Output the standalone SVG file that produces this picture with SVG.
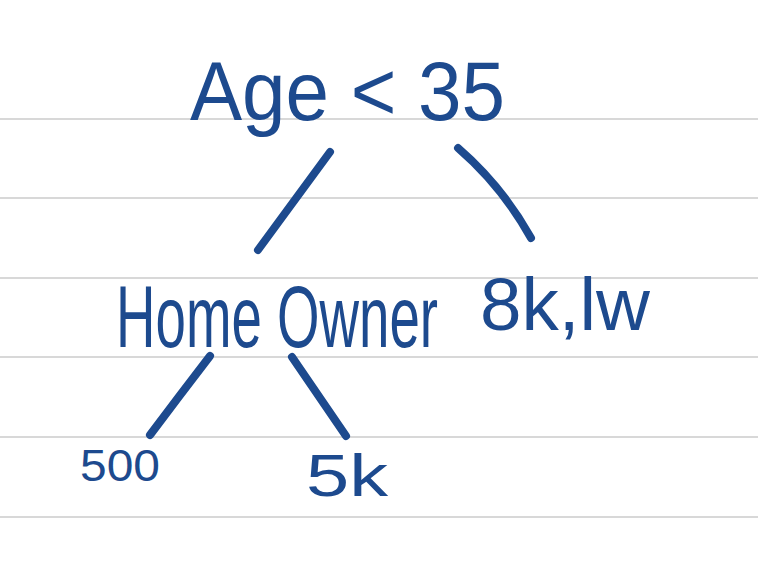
<svg xmlns="http://www.w3.org/2000/svg" width="758" height="584" viewBox="0 0 758 584">
<style>
.rule{stroke:#d8d8d8;stroke-width:2}
.ink{fill:#1d4a8e;font-family:"Liberation Sans",Arial,sans-serif}
.edge{stroke:#1d4a8e;stroke-width:8;stroke-linecap:round;fill:none}
</style>
<rect width="758" height="584" fill="#ffffff"/>
<g id="paper">
<line class="rule" x1="0" y1="119" x2="758" y2="119"/>
<line class="rule" x1="0" y1="198" x2="758" y2="198"/>
<line class="rule" x1="0" y1="278" x2="758" y2="278"/>
<line class="rule" x1="0" y1="357" x2="758" y2="357"/>
<line class="rule" x1="0" y1="437" x2="758" y2="437"/>
<line class="rule" x1="0" y1="517" x2="758" y2="517"/>
</g>
<g id="connectors">
<path class="edge" d="M330,152 L258,250"/>
<path class="edge" d="M458,148 Q502,186 531,238"/>
<path class="edge" d="M210,356 Q180,395 150,435"/>
<path class="edge" d="M292,357 Q325,405 346,436"/>
</g>
<g id="n-age"><text class="ink" x="190" y="120" font-size="84" textLength="315" lengthAdjust="spacingAndGlyphs">Age &lt; 35</text></g>
<g id="n-home"><text class="ink" transform="translate(116,347) scale(1,1.45)" x="0" y="0" font-size="60" textLength="322" lengthAdjust="spacingAndGlyphs">Home Owner</text></g>
<g id="n-8k"><text class="ink" x="480" y="330" font-size="74" textLength="170" lengthAdjust="spacingAndGlyphs">8k,lw</text></g>
<g id="n-500"><text class="ink" x="80" y="481" font-size="44" textLength="80" lengthAdjust="spacingAndGlyphs">500</text></g>
<g id="n-5k"><text class="ink" x="306" y="496" font-size="60" textLength="82" lengthAdjust="spacingAndGlyphs">5k</text></g>
</svg>
